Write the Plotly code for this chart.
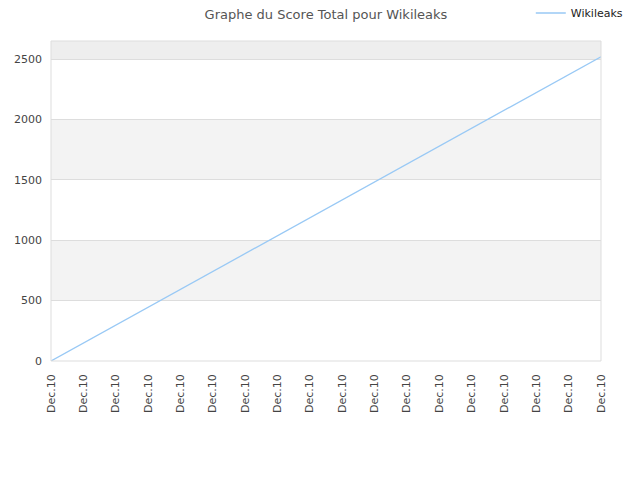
import plotly.graph_objects as go

# data
x_idx = list(range(18))
tick_labels = ["Dec.10"] * 18
scores = [0, 148, 296, 445, 593, 741, 889, 1038, 1186, 1334,
          1482, 1631, 1779, 1927, 2075, 2224, 2372, 2520]

y_max = 2650

fig = go.Figure()
fig.add_trace(go.Scatter(x=x_idx, y=scores, mode="lines", name="Wikileaks",
                         line=dict(color="#99c9f5", width=1.3)))

# alternating background bands
shapes = []
for y0, y1, col in [(500, 1000, "#f3f3f3"), (1500, 2000, "#f3f3f3"),
                    (2500, y_max, "#eeeeee")]:
    shapes.append(dict(type="rect", xref="paper", yref="y", x0=0, x1=1,
                       y0=y0, y1=y1, fillcolor=col, line_width=0, layer="below"))
shapes.append(dict(type="rect", xref="paper", yref="paper", x0=0, x1=1,
                   y0=0, y1=1, line=dict(color="#dddddd", width=1)))

fig.update_layout(
    width=640, height=480,
    margin=dict(l=43, r=47, t=33, b=127, autoexpand=False),
    paper_bgcolor="white", plot_bgcolor="white",
    font=dict(family="DejaVu Sans", size=11, color="#444444"),
    title=dict(text="Graphe du Score Total pour Wikileaks", x=0.5, xanchor="center",
               xref="paper", yref="container", y=0.986, yanchor="middle",
               font=dict(family="DejaVu Sans", size=13, color="#555555")),
    showlegend=True,
    legend=dict(xref="container", yref="paper", x=0.970, y=1.0875,
                xanchor="right", yanchor="middle", itemwidth=30,
                font=dict(size=11, color="#222222"), bgcolor="rgba(0,0,0,0)"),
    shapes=shapes,
)
fig.update_xaxes(range=[0, 17], tickvals=x_idx, ticktext=tick_labels,
                 tickangle=-90, showgrid=False, zeroline=False, automargin=False,
                 ticks="", ticklabelstandoff=10,
                 tickfont=dict(size=11, color="#444444"))
fig.update_yaxes(range=[0, y_max], tickvals=[0, 500, 1000, 1500, 2000, 2500],
                 showgrid=True, gridcolor="#dddddd", zeroline=False, automargin=False,
                 ticklabelstandoff=8,
                 tickfont=dict(size=11, color="#444444"))

fig.write_html("out.html")
